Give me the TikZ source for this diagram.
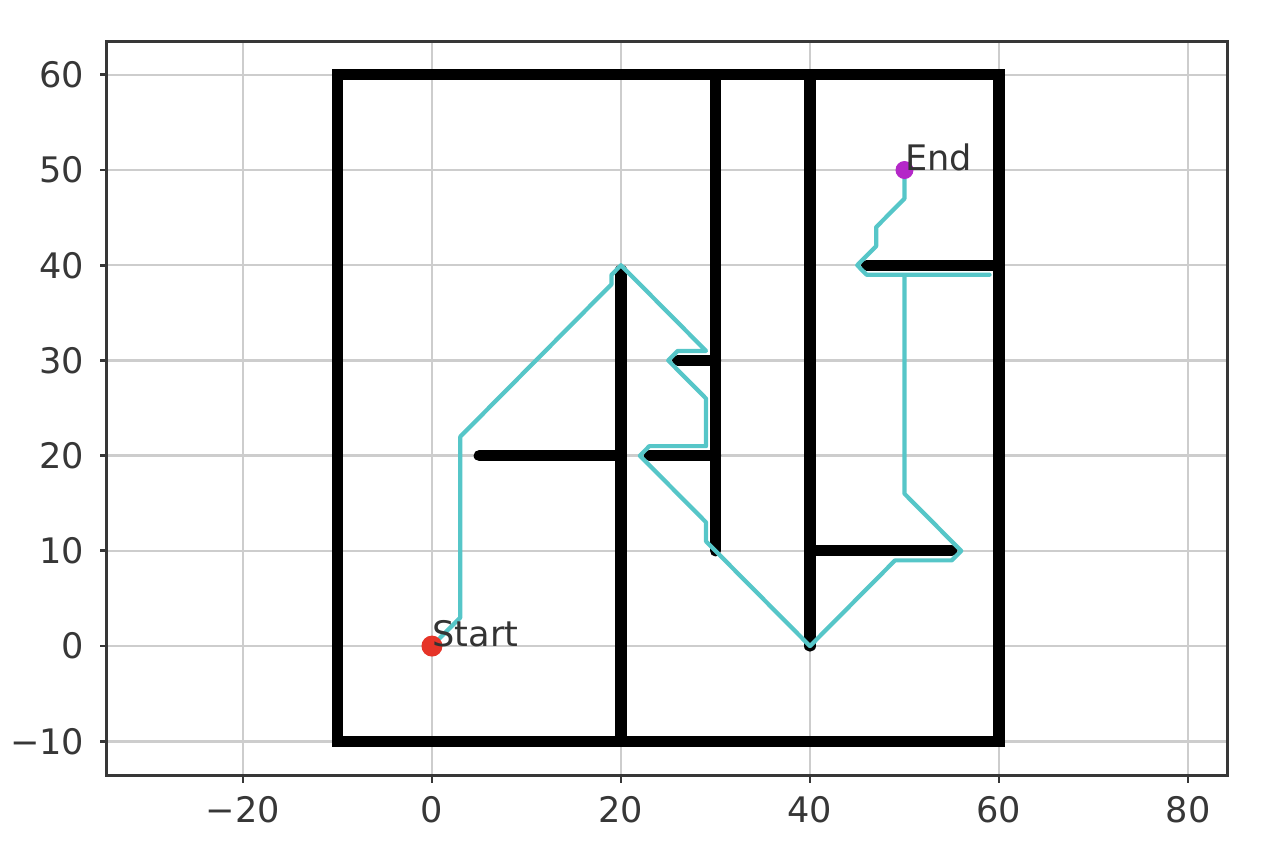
\documentclass[tikz,border=0pt]{standalone}
\usepackage{fontspec}
\setmainfont{DejaVu Sans}
\definecolor{pathc}{RGB}{86,198,200}
\definecolor{gridc}{RGB}{205,205,205}
\definecolor{axisc}{RGB}{55,55,55}
\definecolor{startc}{RGB}{230,52,40}
\definecolor{endc}{RGB}{180,40,200}
\tikzset{
  wall/.style={line width=3.2pt,line cap=round},
  route/.style={pathc,line width=1.2pt,line join=round},
  gridline/.style={gridc,line width=0.7pt},
  dot/.style={circle,inner sep=0pt,minimum size=#1},
  ticklbl/.style={text=axisc,inner sep=3pt}
}
\begin{document}
\begin{tikzpicture}[x=0.0945cm,y=0.0952cm,font=\fontsize{10}{12}\selectfont]
\useasboundingbox (-45.71,-22.48) rectangle (87.83,67.86);
% grid
\foreach \a in {-20,0,...,80}{
	\draw[gridline] (\a,-13.6) -- (\a,63.5);
}
\foreach \b in {-10,0,...,60}{
	\draw[gridline] (-34.4,\b) -- (84.2,\b);
}
% walls
\draw[wall] (-10,-10) rectangle (60,60);
\draw[wall] (20,-10) -- (20,39.5);
\draw[wall] (30,10) -- (30,60);
\draw[wall] (40,0) -- (40,60);
\draw[wall] (5,20) -- (20,20);
\draw[wall] (23,20) -- (30,20);
\draw[wall] (26,30) -- (30,30);
\draw[wall] (40,10) -- (55,10);
\draw[wall] (46,40) -- (60,40);
% path
\draw[route] (0,0) -- (3,3) -- (3,22) -- (19,38) -- (19,39) -- (20,40)
	-- (29,31) -- (26,31) -- (25,30) -- (29,26) -- (29,21) -- (23,21)
	-- (22,20) -- (29,13) -- (29,11) -- (30,10) -- (40,0) -- (49,9)
	-- (55,9) -- (56,10) -- (50,16) -- (50,39) -- (59,39) -- (46,39)
	-- (45,40) -- (47,42) -- (47,44) -- (50,47) -- (50,50);
% start and end
\node[dot=0.21cm,fill=startc] (start) at (0,0) {};
\node[dot=0.18cm,fill=endc] (goal) at (50,50) {};
\node[anchor=base west,inner sep=0pt,text=black!80] (startlbl) at (start.center) {Start};
\node[anchor=base west,inner sep=0pt,text=black!80] (goallbl) at (goal.center) {End};
% axes
\draw[axisc,line width=0.8pt] (-34.4,-13.6) rectangle (84.2,63.5);
\foreach \a/\t in {-20/−20,0/0,20/20,40/40,60/60,80/80}{
	\draw[axisc,line width=0.8pt] (\a,-13.6) -- (\a,-14.35);
	\node[ticklbl,anchor=north] at (\a,-14.6) {\t};
}
\foreach \b/\t in {-10/−10,0/0,10/10,20/20,30/30,40/40,50/50,60/60}{
	\draw[axisc,line width=0.8pt] (-34.4,\b) -- (-35.15,\b);
	\node[ticklbl,anchor=east] at (-35.6,\b) {\t};
}
\end{tikzpicture}
\end{document}
